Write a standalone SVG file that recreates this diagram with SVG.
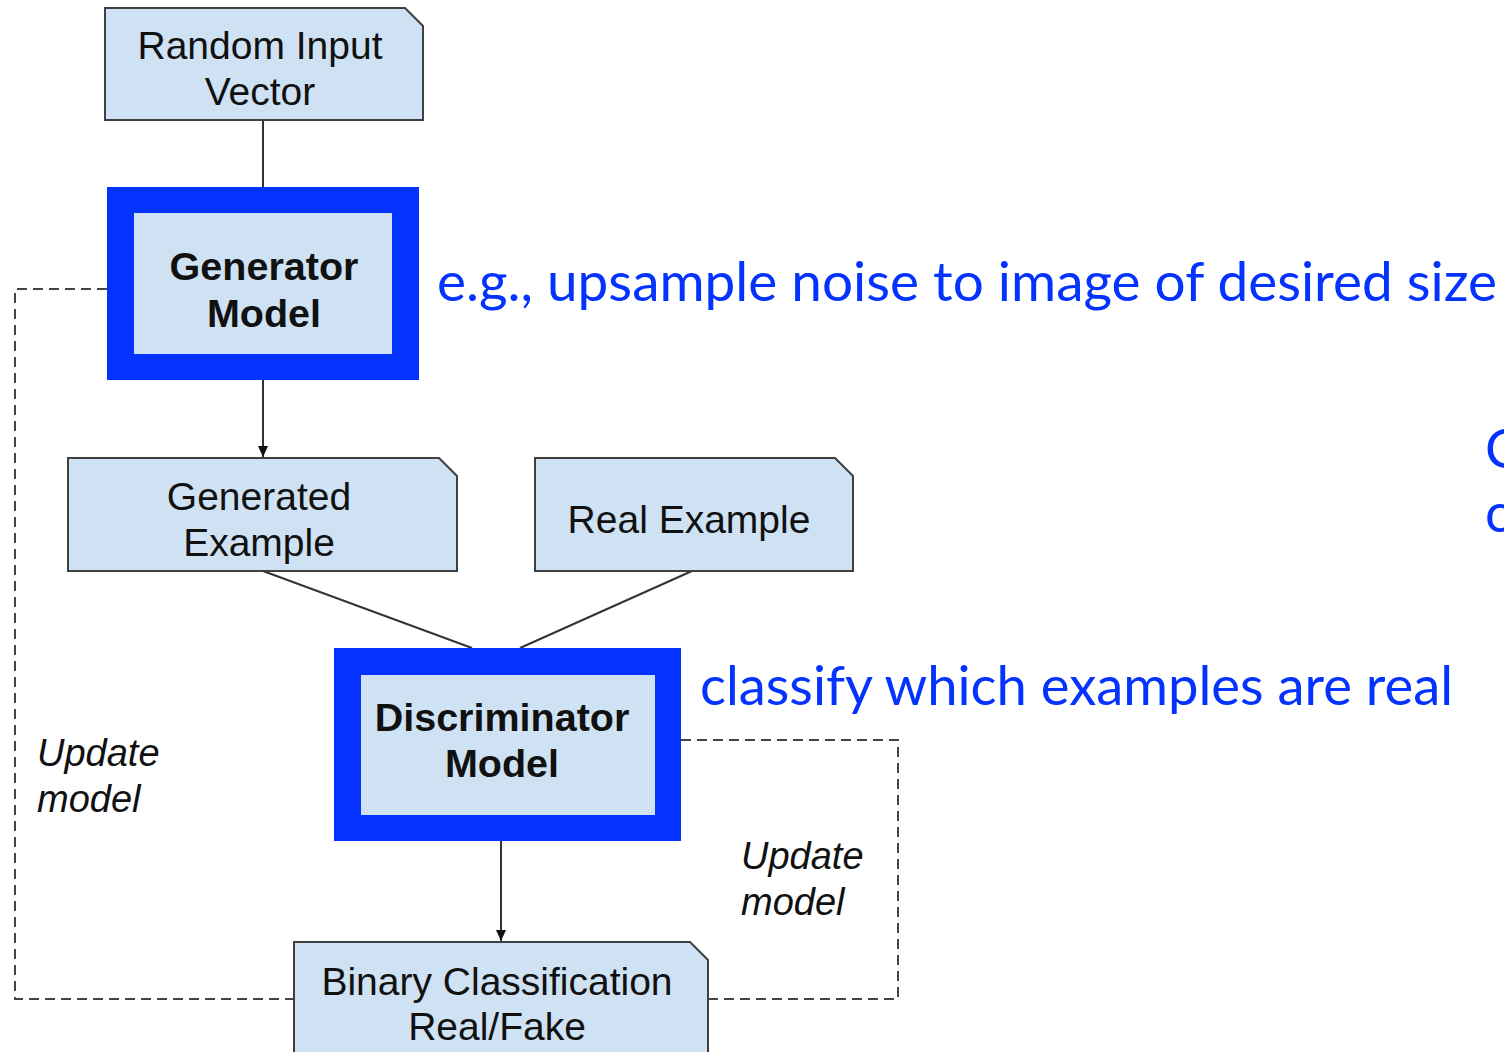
<svg xmlns="http://www.w3.org/2000/svg" width="1504" height="1052" viewBox="0 0 1504 1052">
<style>
.box{fill:#cfe2f3;stroke:#404040;stroke-width:2}
.frame{fill:#0433ff}
.inner{fill:#cfe2f3}
.t{font-family:"Liberation Sans",Arial,sans-serif;font-size:39px;fill:#111;text-anchor:middle}
.b{font-weight:bold;font-size:39.5px}
.i{font-family:"Liberation Sans",Arial,sans-serif;font-size:38px;font-style:italic;fill:#111}
.blue{font-family:Lato,"Open Sans",sans-serif;font-size:54px;fill:#0433ff}
.ln{stroke:#333;stroke-width:2;fill:none}
.dash{stroke:#444;stroke-width:2;fill:none;stroke-dasharray:10,6}
</style>
<defs>
<marker id="arr" markerWidth="12" markerHeight="12" refX="11" refY="6" orient="auto" markerUnits="userSpaceOnUse" viewBox="0 0 12 12">
<path d="M0,1 L11,6 L0,11 Z" fill="#111"/>
</marker>
</defs>
<rect width="1504" height="1052" fill="#fff"/>
<g id="connectors">
<line class="ln" x1="263" y1="120" x2="263" y2="188"/>
<line class="ln" x1="263" y1="380" x2="263" y2="457" marker-end="url(#arr)"/>
<line class="ln" x1="263" y1="571" x2="472" y2="648"/>
<line class="ln" x1="692" y1="571" x2="520" y2="648"/>
<line class="ln" x1="501" y1="841" x2="501" y2="941" marker-end="url(#arr)"/>
<polyline class="dash" points="107,289 15,289 15,999 294,999"/>
<polyline class="dash" points="681,740 898,740 898,999 708,999"/>
</g>
<g id="random-input">
<path class="box" d="M105,8 H405 L423,26 V120 H105 Z"/>
<text class="t" x="260" y="59">Random Input</text>
<text class="t" x="260" y="105">Vector</text>
</g>
<g id="generator">
<rect class="frame" x="107" y="187" width="312" height="193"/>
<rect class="inner" x="134" y="213" width="258" height="141"/>
<text class="t b" x="264" y="280">Generator</text>
<text class="t b" x="264" y="327">Model</text>
</g>
<g id="generated-example">
<path class="box" d="M68,458 H439 L457,476 V571 H68 Z"/>
<text class="t" x="259" y="510">Generated</text>
<text class="t" x="259" y="556">Example</text>
</g>
<g id="real-example">
<path class="box" d="M535,458 H835 L853,476 V571 H535 Z"/>
<text class="t" x="689" y="533">Real Example</text>
</g>
<g id="discriminator">
<rect class="frame" x="334" y="648" width="347" height="193"/>
<rect class="inner" x="361" y="675" width="294" height="140"/>
<text class="t b" x="502" y="731">Discriminator</text>
<text class="t b" x="502" y="777">Model</text>
</g>
<g id="binary-classification">
<path class="box" d="M294,942 H690 L708,960 V1060 H294 Z"/>
<text class="t" x="497" y="995">Binary Classification</text>
<text class="t" x="497" y="1040">Real/Fake</text>
</g>
<g id="labels">
<text class="i" x="37" y="766">Update</text>
<text class="i" x="37" y="812">model</text>
<text class="i" x="741" y="869">Update</text>
<text class="i" x="741" y="915">model</text>
<text class="blue" x="437" y="301" textLength="1060" lengthAdjust="spacingAndGlyphs">e.g., upsample noise to image of desired size</text>
<text class="blue" x="700" y="705" textLength="753" lengthAdjust="spacingAndGlyphs">classify which examples are real</text>
<text class="blue" x="1485" y="468">C</text>
<text class="blue" x="1485" y="532">c</text>
</g>
</svg>
